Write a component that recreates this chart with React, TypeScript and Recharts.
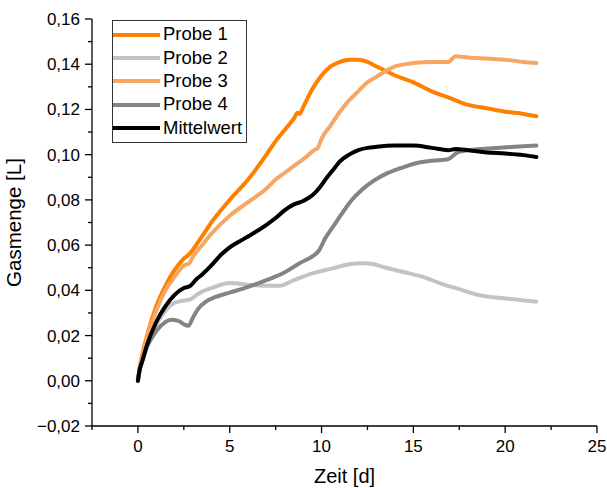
import { LineChart, Line, XAxis, YAxis, Legend } from 'recharts';

const FONT = '"Liberation Sans", Arial, sans-serif';

// Zeit [d] und Gasmenge [L] je Probe
const T_P1 = [0, 0.1, 0.25, 0.5, 1, 1.5, 2, 2.5, 2.8, 3, 3.5, 4, 5, 6, 7, 7.5, 8, 8.5, 8.7, 8.8, 9, 9.5, 10, 10.5, 11, 11.5, 12, 12.5, 13, 14, 15, 16, 17, 18, 19, 20, 21, 21.7];
const P1 = [0, 0.006, 0.012, 0.02, 0.033, 0.042, 0.049, 0.054, 0.056, 0.058, 0.064, 0.07, 0.08, 0.089, 0.1, 0.106, 0.111, 0.116, 0.1185, 0.118, 0.121, 0.129, 0.135, 0.139, 0.141, 0.142, 0.142, 0.141, 0.139, 0.135, 0.132, 0.128, 0.125, 0.122, 0.1205, 0.119, 0.118, 0.117];

const T_P2 = [0, 0.1, 0.25, 0.5, 1, 1.5, 2, 2.5, 2.85, 3.2, 3.5, 4, 5, 6, 7, 7.7, 8.5, 9.5, 10.5, 11.5, 12.2, 12.7, 13.5, 14.5, 15.5, 16.5, 17.5, 18.5, 19.5, 20.5, 21.7];
const P2 = [0, 0.005, 0.009, 0.016, 0.025, 0.031, 0.0345, 0.0355, 0.036, 0.038, 0.0395, 0.041, 0.0432, 0.0425, 0.042, 0.042, 0.0445, 0.0475, 0.0495, 0.0515, 0.052, 0.0518, 0.05, 0.048, 0.046, 0.043, 0.0405, 0.038, 0.0368, 0.036, 0.035];

const T_P3 = [0, 0.1, 0.25, 0.5, 1, 1.5, 2, 2.5, 2.8, 3, 3.5, 4, 5, 6, 7, 7.5, 8, 8.5, 9, 9.6, 9.8, 10, 10.5, 11, 11.5, 12, 12.5, 13, 14, 15, 16, 16.9, 17.3, 18, 19, 20, 21, 21.7];
const P3 = [0, 0.006, 0.011, 0.019, 0.031, 0.04, 0.046, 0.051, 0.052, 0.055, 0.06, 0.065, 0.073, 0.079, 0.085, 0.089, 0.092, 0.095, 0.098, 0.102, 0.103, 0.107, 0.113, 0.119, 0.124, 0.128, 0.132, 0.1345, 0.139, 0.1405, 0.141, 0.141, 0.1435, 0.143, 0.1425, 0.142, 0.141, 0.1405];

const T_P4 = [0, 0.1, 0.25, 0.5, 1, 1.5, 1.8, 2.2, 2.5, 2.75, 3, 3.3, 3.7, 4.2, 5, 6, 7, 8, 8.8, 9.5, 9.85, 10.2, 10.7, 11.2, 11.6, 12.2, 12.85, 13.5, 14.3, 15.2, 16, 16.9, 17.4, 18, 18.7, 19.5, 20.5, 21.7];
const P4 = [0, 0.005, 0.009, 0.015, 0.022, 0.026, 0.027, 0.0265, 0.025, 0.0243, 0.028, 0.032, 0.035, 0.037, 0.039, 0.0415, 0.0445, 0.048, 0.052, 0.055, 0.0575, 0.063, 0.069, 0.075, 0.0795, 0.0845, 0.0885, 0.0915, 0.094, 0.0963, 0.0973, 0.098, 0.101, 0.102, 0.1025, 0.103, 0.1035, 0.104];

const T_MW = [0, 0.1, 0.25, 0.5, 1, 1.5, 2, 2.5, 2.85, 3.2, 3.5, 4, 4.5, 5, 5.5, 6, 7, 7.5, 8, 8.5, 9, 9.5, 9.9, 10.3, 10.7, 11, 11.5, 12, 12.5, 13, 14, 15, 16, 16.9, 17.3, 18, 19, 20, 21, 21.7];
const MW = [0, 0.005, 0.009, 0.016, 0.026, 0.033, 0.038, 0.041, 0.042, 0.045, 0.047, 0.051, 0.0555, 0.059, 0.0615, 0.0638, 0.069, 0.072, 0.0755, 0.078, 0.0795, 0.082, 0.0855, 0.09, 0.094, 0.097, 0.1, 0.102, 0.103, 0.1035, 0.104, 0.104, 0.103, 0.102, 0.1025, 0.102, 0.101, 0.1005, 0.0998, 0.099];

const X_TICKS = [-2.5, 0, 2.5, 5, 7.5, 10, 12.5, 15, 17.5, 20, 22.5, 25];
const Y_TICKS = [-0.02, -0.01, 0, 0.01, 0.02, 0.03, 0.04, 0.05, 0.06, 0.07, 0.08, 0.09, 0.1, 0.11, 0.12, 0.13, 0.14, 0.15, 0.16];

const SERIES = [
  { name: 'Probe 1', t: T_P1, v: P1, color: '#ff8000' },
  { name: 'Probe 2', t: T_P2, v: P2, color: '#c3c3c3' },
  { name: 'Probe 3', t: T_P3, v: P3, color: '#f6a765' },
  { name: 'Probe 4', t: T_P4, v: P4, color: '#848484' },
  { name: 'Mittelwert', t: T_MW, v: MW, color: '#000000' },
];

const toPoints = (t: number[], v: number[]) => t.map((x, i) => ({ x, y: v[i] }));

const fmtY = (v: number) => v.toFixed(2).replace('.', ',').replace('-', '\u2212');

function YTick({ x, y, payload }: any) {
  const major = Math.round(payload.value * 100) % 2 === 0;
  return (
    <g>
      <line x1={x} x2={x - (major ? 7 : 4)} y1={y} y2={y} stroke="#000" strokeWidth={1.3} />
      {major && (
        <text x={x - 12} y={y + 6} textAnchor="end" fontSize={17} fontFamily={FONT} fill="#000">
          {fmtY(payload.value)}
        </text>
      )}
    </g>
  );
}

function XTick({ x, y, payload }: any) {
  const major = payload.value % 5 === 0;
  return (
    <g>
      <line x1={x} x2={x} y1={y} y2={y + (major ? 7 : 4)} stroke="#000" strokeWidth={1.3} />
      {major && (
        <text x={x} y={y + 26} textAnchor="middle" fontSize={17} fontFamily={FONT} fill="#000">
          {payload.value}
        </text>
      )}
    </g>
  );
}

function LegendBox() {
  return (
    <div style={{ border: '1px solid #333', width: 135, padding: '2px 0 3px 0', background: '#fff', fontFamily: FONT, fontSize: 18.5, boxSizing: 'border-box' }}>
      {SERIES.map((s) => (
        <div key={s.name} style={{ display: 'flex', alignItems: 'center', height: 23.3 }}>
          <svg width={47} height={8}>
            <line x1={0} x2={47} y1={4} y2={4} stroke={s.color} strokeWidth={4} strokeLinecap="round" />
          </svg>
          <span style={{ marginLeft: 3, color: '#000', lineHeight: 1 }}>{s.name}</span>
        </div>
      ))}
    </div>
  );
}

export default function App() {
  return (
    <div style={{ position: 'absolute', left: 0, top: 0, background: '#fff' }}>
      <LineChart width={607} height={488} margin={{ top: 19, right: 10, bottom: 0, left: 0 }}>
        <XAxis
          type="number"
          dataKey="x"
          domain={[-2.5, 25]}
          ticks={X_TICKS}
          interval={0}
          tickSize={0}
          tickMargin={0}
          tick={<XTick />}
          height={62}
          stroke="#000"
          strokeWidth={1.3}
          label={{ value: 'Zeit [d]', position: 'insideBottom', offset: 5, fill: '#000', fontSize: 20, fontFamily: FONT }}
        />
        <YAxis
          type="number"
          domain={[-0.02, 0.16]}
          ticks={Y_TICKS}
          interval={0}
          tickSize={0}
          tickMargin={0}
          tick={<YTick />}
          width={92}
          stroke="#000"
          strokeWidth={1.3}
          label={{ value: 'Gasmenge [L]', angle: -90, position: 'insideLeft', offset: 14, fill: '#000', fontSize: 20.5, fontFamily: FONT, style: { textAnchor: 'middle' } }}
        />
        <Legend
          layout="vertical"
          align="center"
          verticalAlign="middle"
          content={<LegendBox />}
          wrapperStyle={{ left: 112, top: 20, width: 135 }}
        />
        {SERIES.map((s) => (
          <Line
            key={s.name}
            name={s.name}
            data={toPoints(s.t, s.v)}
            dataKey="y"
            type="monotone"
            stroke={s.color}
            strokeWidth={4}
            dot={false}
            strokeLinejoin="round"
            strokeLinecap="round"
            isAnimationActive={false}
          />
        ))}
      </LineChart>
    </div>
  );
}
